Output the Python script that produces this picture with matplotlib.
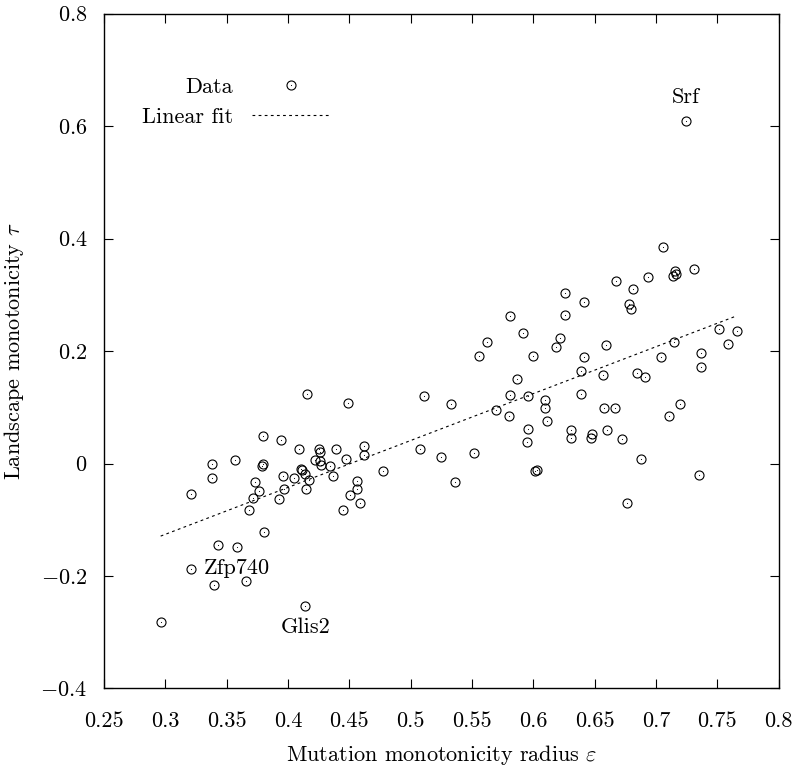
#-------------------------------------------Libraries
import numpy as np
import matplotlib
matplotlib.use('Agg')
import matplotlib.pyplot as plt
from matplotlib.legend_handler import HandlerTuple
#-------------------------------------------data
eps = [0.4153, 0.4493, 0.380, 0.3944, 0.3383, 0.357, 0.409, 0.425, 0.426, 0.4395,
       0.447, 0.422, 0.426, 0.427, 0.4343, 0.3789, 0.380, 0.3383, 0.3957, 0.4104,
       0.4112, 0.4136, 0.4052, 0.4174, 0.4145, 0.437, 0.373, 0.3762, 0.397, 0.393,
       0.3715, 0.368, 0.3207, 0.445, 0.4504, 0.3808, 0.3432, 0.3582, 0.3212, 0.3656,
       0.3397, 0.414, 0.2962,
       0.5559, 0.5994, 0.5108, 0.5333, 0.5869, 0.5812, 0.5959, 0.6097, 0.6097, 0.6116,
       0.5695, 0.5806, 0.5959, 0.595, 0.6015, 0.6029, 0.4623, 0.462, 0.4778, 0.508,
       0.5249, 0.5513, 0.5366, 0.4566, 0.4566, 0.4588,
       0.7054, 0.7157, 0.7138, 0.7166, 0.7307, 0.6676, 0.6934, 0.681, 0.6782, 0.6798,
       0.6263, 0.6415, 0.5808, 0.6257, 0.5914, 0.6222, 0.6186, 0.6592, 0.641, 0.6388,
       0.6565, 0.704, 0.7149, 0.7516, 0.7663, 0.759, 0.737, 0.7364, 0.6842, 0.691,
       0.6393, 0.658, 0.667, 0.6309, 0.6309, 0.6483, 0.647, 0.6605, 0.6724, 0.6882,
       0.7105, 0.72, 0.7352, 0.6766, 0.5624, 0.7244]
tau = [0.123, 0.1085, 0.0486, 0.042, 0.0, 0.007, 0.0254, 0.025, 0.020, 0.025,
       0.0077, 0.006, 0.004, -0.003, -0.0036, -0.0036, -0.001, -0.026, -0.0214, -0.0095,
       -0.012, -0.018, -0.025, -0.030, -0.046, -0.0226, -0.032, -0.048, -0.046, -0.0635,
       -0.0617, -0.0825, -0.0534, -0.083, -0.0552, -0.1217, -0.144, -0.148, -0.188, -0.208,
       -0.216, -0.2527, -0.281,
       0.191, 0.192, 0.121, 0.106, 0.1495, 0.1228, 0.1198, 0.1126, 0.0996, 0.0758,
       0.096, 0.0847, 0.0616, 0.0379, -0.013, -0.0107, 0.0313, 0.016, -0.0125, 0.0254,
       0.0125, 0.0183, -0.0327, -0.0315, -0.0445, -0.0694,
       0.385, 0.3427, 0.3333, 0.337, 0.3457, 0.325, 0.3315, 0.3107, 0.2835, 0.275,
       0.3036, 0.2876, 0.2626, 0.265, 0.2324, 0.2235, 0.207, 0.21, 0.19, 0.1654,
       0.157, 0.19, 0.2158, 0.239, 0.2354, 0.2123, 0.1968, 0.1714, 0.1613, 0.1548,
       0.1233, 0.099, 0.0996, 0.0605, 0.046, 0.0534, 0.046, 0.0605, 0.0445, 0.0077,
       0.0847, 0.106, -0.0203, -0.070, 0.2164, 0.609]
fit_x = [0.2962, 0.7663]
fit_y = [-0.129, 0.263]
#--------------------------------------------labelled genes
genes = ['Srf', 'Zfp740', 'Glis2']
gene_x = [0.7244, 0.3212, 0.414]
gene_y = [0.609, -0.188, -0.2527]
#--------------------------------------------ticks
xticks = [0.25, 0.3, 0.35, 0.4, 0.45, 0.5, 0.55, 0.6, 0.65, 0.7, 0.75, 0.8]
yticks = [-0.4, -0.2, 0, 0.2, 0.4, 0.6, 0.8]
#--------------------------------------------style
plt.rcParams['font.family'] = 'serif'
plt.rcParams['font.serif'] = ['cmr10']
plt.rcParams['mathtext.fontset'] = 'cm'
plt.rcParams['axes.unicode_minus'] = False
fs = 16
#--------------------------------------------figure
fig = plt.figure(figsize=(7.94, 7.66), dpi=100)
ax = fig.add_axes([0.131, 0.1012, 0.8495, 0.8809])

circ, = ax.plot(eps, tau, linestyle='none', marker='o', markersize=6.5,
                markerfacecolor='none', markeredgecolor='black', markeredgewidth=0.8)
dots, = ax.plot(eps, tau, linestyle='none', marker='o', markersize=0.8,
                color='black', markeredgewidth=0)
fit, = ax.plot(fit_x, fit_y, color='black', linewidth=0.8, linestyle=(0, (2.5, 3)))

# labels for the named genes
ax.annotate(genes[0], (gene_x[0], gene_y[0]), xytext=(0, 17.5), textcoords='offset points',
            ha='center', va='center', fontsize=fs)
ax.annotate(genes[1], (gene_x[1], gene_y[1]), xytext=(9, 0.5), textcoords='offset points',
            ha='left', va='center', fontsize=fs)
ax.annotate(genes[2], (gene_x[2], gene_y[2]), xytext=(0, -15.5), textcoords='offset points',
            ha='center', va='center', fontsize=fs)

ax.set_xlim(0.25, 0.8)
ax.set_ylim(-0.4, 0.8)
ax.set_xticks(xticks)
ax.set_xticklabels([('%g' % v) for v in xticks])
ax.set_yticks(yticks)
ax.set_yticklabels([('$%g$' % v) for v in yticks])
ax.tick_params(axis='both', direction='in', length=6.7, width=0.8,
               top=True, right=True, labelsize=fs)
ax.tick_params(axis='x', pad=16.5)
ax.tick_params(axis='y', pad=12)
for s in ax.spines.values():
    s.set_linewidth(1.0)

ax.set_xlabel(r'Mutation monotonicity radius $\varepsilon$', fontsize=fs, labelpad=9)
ax.set_ylabel(r'Landscape monotonicity $\tau$', fontsize=fs, labelpad=10)

leg = ax.legend([(circ, dots), fit], ['Data', 'Linear fit'],
                handler_map={tuple: HandlerTuple(ndivide=1, pad=0)},
                loc='upper right', bbox_to_anchor=(0.3336, 0.906), frameon=False,
                markerfirst=False, numpoints=1, fontsize=fs, borderpad=0,
                handlelength=3.46, handletextpad=0.86, labelspacing=0.48,
                borderaxespad=0)

fig.savefig('out.png', dpi=100)
#-------------------------------------------------------------end of program
